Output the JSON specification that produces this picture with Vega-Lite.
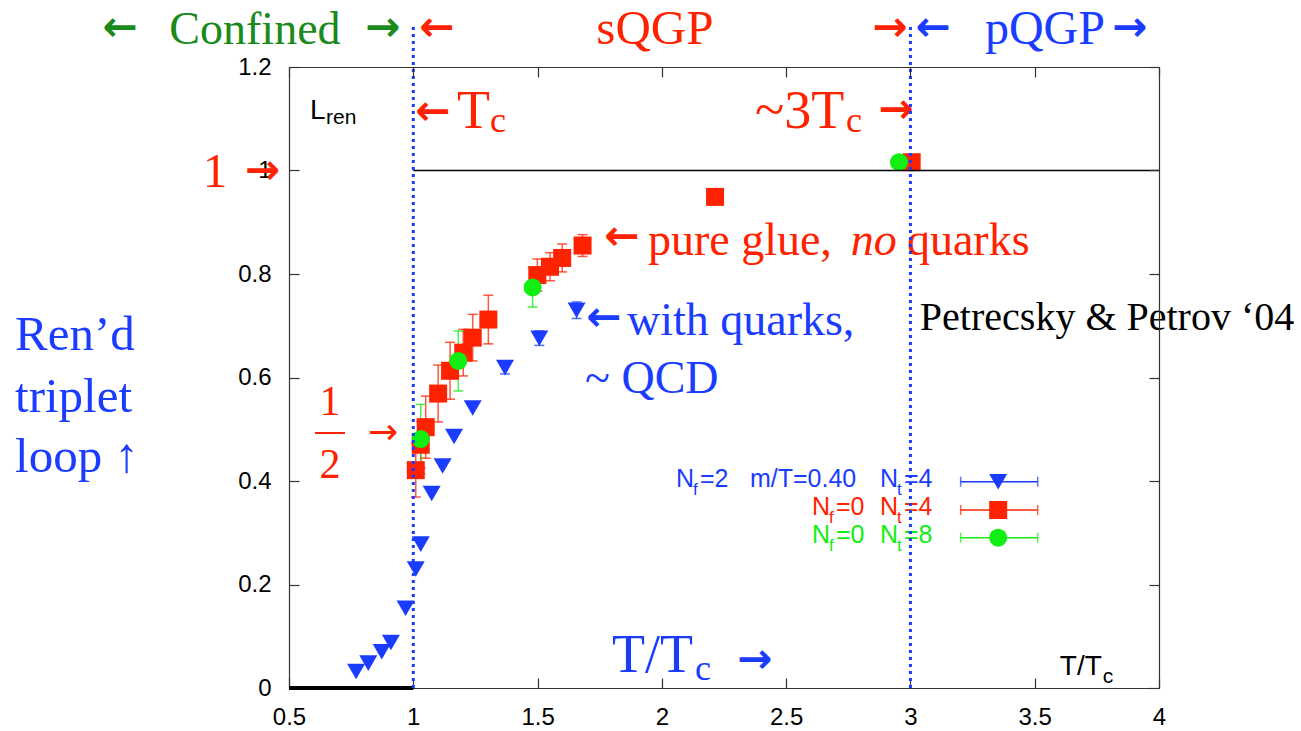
{
"$schema":"https://vega.github.io/schema/vega-lite/v6.json",
"width":870,"height":621,
"autosize":{"type":"none"},
"padding":{"left":289,"top":67,"right":142,"bottom":43},
"background":"white",
"config":{"view":{"stroke":null},"axis":{"grid":false}},
"datasets":{
"pts":[
{"s":"Nf=2","T":0.770,"y":0.032},{"s":"Nf=2","T":0.819,"y":0.048},{"s":"Nf=2","T":0.873,"y":0.070},{"s":"Nf=2","T":0.910,"y":0.088},
{"s":"Nf=2","T":0.969,"y":0.154},{"s":"Nf=2","T":1.010,"y":0.230},{"s":"Nf=2","T":1.030,"y":0.278},{"s":"Nf=2","T":1.074,"y":0.376},
{"s":"Nf=2","T":1.118,"y":0.429},{"s":"Nf=2","T":1.164,"y":0.486},{"s":"Nf=2","T":1.239,"y":0.541},{"s":"Nf=2","T":1.369,"y":0.619},
{"s":"Nf=2","T":1.507,"y":0.676},{"s":"Nf=2","T":1.657,"y":0.730},
{"s":"Nt=4","T":1.010,"y":0.421},{"s":"Nt=4","T":1.030,"y":0.470},{"s":"Nt=4","T":1.050,"y":0.504},{"s":"Nt=4","T":1.100,"y":0.569},
{"s":"Nt=4","T":1.148,"y":0.613},{"s":"Nt=4","T":1.201,"y":0.648},{"s":"Nt=4","T":1.239,"y":0.677},{"s":"Nt=4","T":1.302,"y":0.712},
{"s":"Nt=4","T":1.499,"y":0.798},{"s":"Nt=4","T":1.550,"y":0.814},{"s":"Nt=4","T":1.599,"y":0.831},{"s":"Nt=4","T":1.681,"y":0.855},
{"s":"Nt=4","T":2.214,"y":0.949},{"s":"Nt=4","T":3.005,"y":1.016},
{"s":"Nt=8","T":1.030,"y":0.481},{"s":"Nt=8","T":1.181,"y":0.632},{"s":"Nt=8","T":1.480,"y":0.774},{"s":"Nt=8","T":2.954,"y":1.016}
],
"err":[
{"s":"Nf=2","T":1.369,"y":0.607,"y2":0.631},{"s":"Nf=2","T":1.507,"y":0.662,"y2":0.690},{"s":"Nf=2","T":1.657,"y":0.714,"y2":0.746},
{"s":"Nt=4","T":1.010,"y":0.369,"y2":0.473},{"s":"Nt=4","T":1.030,"y":0.425,"y2":0.515},{"s":"Nt=4","T":1.050,"y":0.444,"y2":0.564},
{"s":"Nt=4","T":1.100,"y":0.514,"y2":0.624},{"s":"Nt=4","T":1.148,"y":0.558,"y2":0.668},{"s":"Nt=4","T":1.201,"y":0.603,"y2":0.693},
{"s":"Nt=4","T":1.239,"y":0.632,"y2":0.722},{"s":"Nt=4","T":1.302,"y":0.665,"y2":0.759},{"s":"Nt=4","T":1.499,"y":0.767,"y2":0.829},
{"s":"Nt=4","T":1.550,"y":0.787,"y2":0.841},{"s":"Nt=4","T":1.599,"y":0.804,"y2":0.858},{"s":"Nt=4","T":1.681,"y":0.834,"y2":0.876},
{"s":"Nt=8","T":1.030,"y":0.414,"y2":0.548},{"s":"Nt=8","T":1.181,"y":0.574,"y2":0.690},{"s":"Nt=8","T":1.480,"y":0.736,"y2":0.812}
],
"leg":[
{"s":"Nf=2","T":3.202,"T2":3.512,"Tm":3.353,"y":0.3987},
{"s":"Nt=4","T":3.202,"T2":3.512,"Tm":3.353,"y":0.344},
{"s":"Nt=8","T":3.202,"T2":3.512,"Tm":3.353,"y":0.2904}
],
"legtxt":[
{"s":"Nf=2","T":2.0567,"y":0.3884,"txt":"N"},{"s":"Nf=2","T":2.1533,"y":0.3884,"txt":"=2"},{"s":"Nf=2","T":2.3544,"y":0.3884,"txt":"m/T=0.40"},
{"s":"Nf=2","T":2.8773,"y":0.3884,"txt":"N"},{"s":"Nf=2","T":2.9738,"y":0.3884,"txt":"=4"},
{"s":"Nt=4","T":2.6038,"y":0.3343,"txt":"N"},{"s":"Nt=4","T":2.7003,"y":0.3343,"txt":"=0"},{"s":"Nt=4","T":2.8773,"y":0.3343,"txt":"N"},{"s":"Nt=4","T":2.9738,"y":0.3343,"txt":"=4"},
{"s":"Nt=8","T":2.6038,"y":0.2802,"txt":"N"},{"s":"Nt=8","T":2.7003,"y":0.2802,"txt":"=0"},{"s":"Nt=8","T":2.8773,"y":0.2802,"txt":"N"},{"s":"Nt=8","T":2.9738,"y":0.2802,"txt":"=8"}
],
"legsub":[
{"s":"Nf=2","T":2.1251,"y":0.3729,"txt":"f"},{"s":"Nf=2","T":2.9457,"y":0.3729,"txt":"t"},
{"s":"Nt=4","T":2.6722,"y":0.3188,"txt":"f"},{"s":"Nt=4","T":2.9457,"y":0.3188,"txt":"t"},
{"s":"Nt=8","T":2.6722,"y":0.2647,"txt":"f"},{"s":"Nt=8","T":2.9457,"y":0.2647,"txt":"t"}
]
},
"encoding":{
"x":{"field":"T","type":"quantitative","scale":{"domain":[0.5,4],"nice":false,"zero":false},"axis":null},
"y":{"field":"y","type":"quantitative","scale":{"domain":[0,1.2],"nice":false,"zero":false},"axis":null}
},
"layer":[
{"data":{"name":"err"},"mark":{"type":"rule","strokeWidth":1.5,"opacity":0.75},
 "encoding":{"y2":{"field":"y2"},"color":{"field":"s","type":"nominal","scale":{"domain":["Nf=2","Nt=4","Nt=8"],"range":["#1a3cff","#ff2200","#11ee11"]},"legend":null}}},
{"data":{"name":"err"},"mark":{"type":"tick","orient":"horizontal","size":10,"thickness":1.5,"opacity":0.75},
 "encoding":{"color":{"field":"s","type":"nominal","scale":{"domain":["Nf=2","Nt=4","Nt=8"],"range":["#1a3cff","#ff2200","#11ee11"]},"legend":null}}},
{"data":{"name":"err"},"mark":{"type":"tick","orient":"horizontal","size":10,"thickness":1.5,"opacity":0.75},
 "encoding":{"y":{"field":"y2","type":"quantitative","scale":{"domain":[0,1.2],"nice":false,"zero":false},"axis":null},
  "color":{"field":"s","type":"nominal","scale":{"domain":["Nf=2","Nt=4","Nt=8"],"range":["#1a3cff","#ff2200","#11ee11"]},"legend":null}}},
{"data":{"name":"pts"},"mark":{"type":"point","filled":true,"opacity":1,"strokeWidth":0},
 "encoding":{
  "x":{"field":"T","type":"quantitative","scale":{"domain":[0.5,4],"nice":false,"zero":false},
   "axis":{"orient":"bottom","values":[0.5,1,1.5,2,2.5,3,3.5,4],"format":"~g","title":null,"grid":false,"domain":true,"domainColor":"#333","domainWidth":1.2,"ticks":true,"tickSize":-10,"tickColor":"#333","tickWidth":1.2,"labelFont":"Liberation Sans","labelFontSize":24,"labelColor":"#000","labelPadding":27,"labelFlush":false,"labelOverlap":false,"zindex":0}},
  "y":{"field":"y","type":"quantitative","scale":{"domain":[0,1.2],"nice":false,"zero":false},
   "axis":{"orient":"left","values":[0,0.2,0.4,0.6,0.8,1,1.2],"format":"~g","title":null,"grid":false,"domain":true,"domainColor":"#333","domainWidth":1.2,"ticks":true,"tickSize":-10,"tickColor":"#333","tickWidth":1.2,"labelFont":"Liberation Sans","labelFontSize":24,"labelColor":"#000","labelPadding":28,"labelFlush":false,"labelOverlap":false,"zindex":0}},
  "color":{"field":"s","type":"nominal","scale":{"domain":["Nf=2","Nt=4","Nt=8"],"range":["#1a3cff","#ff2200","#11ee11"]},"legend":null},
  "shape":{"field":"s","type":"nominal","scale":{"domain":["Nf=2","Nt=4","Nt=8"],"range":["triangle-down","square","circle"]},"legend":null},
  "size":{"field":"s","type":"nominal","scale":{"domain":["Nf=2","Nt=4","Nt=8"],"range":[324,324,300]},"legend":null}}},
{"data":{"name":"leg"},"mark":{"type":"rule","strokeWidth":1.5},
 "encoding":{"x2":{"field":"T2"},"color":{"field":"s","type":"nominal","scale":{"domain":["Nf=2","Nt=4","Nt=8"],"range":["#1a3cff","#ff2200","#11ee11"]},"legend":null}}},
{"data":{"name":"leg"},"mark":{"type":"tick","orient":"vertical","size":10,"thickness":1.5},
 "encoding":{"color":{"field":"s","type":"nominal","scale":{"domain":["Nf=2","Nt=4","Nt=8"],"range":["#1a3cff","#ff2200","#11ee11"]},"legend":null}}},
{"data":{"name":"leg"},"mark":{"type":"tick","orient":"vertical","size":10,"thickness":1.5},
 "encoding":{"x":{"field":"T2","type":"quantitative","scale":{"domain":[0.5,4],"nice":false,"zero":false},"axis":null},
  "color":{"field":"s","type":"nominal","scale":{"domain":["Nf=2","Nt=4","Nt=8"],"range":["#1a3cff","#ff2200","#11ee11"]},"legend":null}}},
{"data":{"name":"leg"},"mark":{"type":"point","filled":true,"opacity":1,"strokeWidth":0},
 "encoding":{"x":{"field":"Tm","type":"quantitative","scale":{"domain":[0.5,4],"nice":false,"zero":false},"axis":null},
  "color":{"field":"s","type":"nominal","scale":{"domain":["Nf=2","Nt=4","Nt=8"],"range":["#1a3cff","#ff2200","#11ee11"]},"legend":null},
  "shape":{"field":"s","type":"nominal","scale":{"domain":["Nf=2","Nt=4","Nt=8"],"range":["triangle-down","square","circle"]},"legend":null},
  "size":{"field":"s","type":"nominal","scale":{"domain":["Nf=2","Nt=4","Nt=8"],"range":[324,324,300]},"legend":null}}},
{"data":{"name":"legtxt"},"mark":{"type":"text","font":"Liberation Sans","fontSize":25,"align":"left","baseline":"alphabetic"},
 "encoding":{"text":{"field":"txt"},"color":{"field":"s","type":"nominal","scale":{"domain":["Nf=2","Nt=4","Nt=8"],"range":["#1a3cff","#ff2200","#11ee11"]},"legend":null}}},
{"data":{"name":"legsub"},"mark":{"type":"text","font":"Liberation Sans","fontSize":17,"align":"left","baseline":"alphabetic"},
 "encoding":{"text":{"field":"txt"},"color":{"field":"s","type":"nominal","scale":{"domain":["Nf=2","Nt=4","Nt=8"],"range":["#1a3cff","#ff2200","#11ee11"]},"legend":null}}},
{"data":{"values":[{"T":0.363,"y":1.2444,"txt":"Confined"}]},"mark":{"type":"text","font":"Liberation Serif","fontSize":46,"align":"center","baseline":"alphabetic","color":"#1a8a1a"},"encoding":{"text":{"field":"txt"}}},
{"data":{"values":[{"T":-0.18,"y":1.275,"txt":"←"},{"T":0.878,"y":1.275,"txt":"→"}]},"mark":{"type":"text","font":"DejaVu Sans","fontWeight":"bold","fontSize":42,"align":"center","baseline":"middle","color":"#1a8a1a"},"encoding":{"text":{"field":"txt"}}},
{"data":{"values":[{"T":1.095,"y":1.275,"txt":"←"},{"T":2.918,"y":1.275,"txt":"→"},{"T":1.079,"y":1.113,"txt":"←"},{"T":2.942,"y":1.117,"txt":"→"},{"T":0.3934,"y":1.0,"txt":"→"},{"T":1.8395,"y":0.8715,"txt":"←"}]},"mark":{"type":"text","font":"DejaVu Sans","fontWeight":"bold","fontSize":42,"align":"center","baseline":"middle","color":"#ff2200"},"encoding":{"text":{"field":"txt"}}},
{"data":{"values":[{"T":3.091,"y":1.275,"txt":"←"},{"T":3.883,"y":1.275,"txt":"→"},{"T":1.767,"y":0.715,"txt":"←"},{"T":2.374,"y":0.054,"txt":"→"}]},"mark":{"type":"text","font":"DejaVu Sans","fontWeight":"bold","fontSize":42,"align":"center","baseline":"middle","color":"#1a3cff"},"encoding":{"text":{"field":"txt"}}},
{"data":{"values":[{"T":1.972,"y":1.2444,"txt":"sQGP"},{"T":0.2023,"y":0.968,"txt":"1"}]},"mark":{"type":"text","font":"Liberation Serif","fontSize":49,"align":"center","baseline":"alphabetic","color":"#ff2200"},"encoding":{"text":{"field":"txt"}}},
{"data":{"values":[{"T":1.944,"y":0.8367,"txt":"pure glue,"},{"T":2.986,"y":0.8367,"txt":"quarks"}]},"mark":{"type":"text","font":"Liberation Serif","fontSize":46,"align":"left","baseline":"alphabetic","color":"#ff2200"},"encoding":{"text":{"field":"txt"}}},
{"data":{"values":[{"T":2.760,"y":0.8367,"txt":"no"}]},"mark":{"type":"text","font":"Liberation Serif","fontStyle":"italic","fontSize":46,"align":"left","baseline":"alphabetic","color":"#ff2200"},"encoding":{"text":{"field":"txt"}}},
{"data":{"values":[{"T":1.176,"y":1.082,"txt":"T"},{"T":2.3745,"y":1.082,"txt":"~3T"}]},"mark":{"type":"text","font":"Liberation Serif","fontSize":54,"align":"left","baseline":"alphabetic","color":"#ff2200"},"encoding":{"text":{"field":"txt"}}},
{"data":{"values":[{"T":1.3085,"y":1.0744,"txt":"c"},{"T":2.7406,"y":1.0744,"txt":"c"}]},"mark":{"type":"text","font":"Liberation Serif","fontSize":36,"align":"left","baseline":"alphabetic","color":"#ff2200"},"encoding":{"text":{"field":"txt"}}},
{"data":{"values":[{"T":0.665,"y":0.5275,"txt":"1"},{"T":0.665,"y":0.4058,"txt":"2"}]},"mark":{"type":"text","font":"Liberation Serif","fontSize":42,"align":"center","baseline":"alphabetic","color":"#ff2200"},"encoding":{"text":{"field":"txt"}}},
{"data":{"values":[{"T":0.878,"y":0.4928,"txt":"→"}]},"mark":{"type":"text","font":"DejaVu Sans","fontSize":36,"align":"center","baseline":"middle","color":"#ff2200"},"encoding":{"text":{"field":"txt"}}},
{"data":{"values":[{"T":0.6046,"T2":0.7253,"y":0.4928}]},"mark":{"type":"rule","strokeWidth":2,"color":"#ff2200"},"encoding":{"x2":{"field":"T2"}}},
{"data":{"values":[{"T":3.541,"y":1.2444,"txt":"pQGP"}]},"mark":{"type":"text","font":"Liberation Serif","fontSize":48,"align":"center","baseline":"alphabetic","color":"#1a3cff"},"encoding":{"text":{"field":"txt"}}},
{"data":{"values":[{"T":1.8596,"y":0.682,"txt":"with quarks,"},{"T":1.691,"y":0.570,"txt":"~ QCD"}]},"mark":{"type":"text","font":"Liberation Serif","fontSize":46,"align":"left","baseline":"alphabetic","color":"#1a3cff"},"encoding":{"text":{"field":"txt"}}},
{"data":{"values":[{"T":-0.602,"y":0.653,"txt":"Ren’d"},{"T":-0.602,"y":0.533,"txt":"triplet"},{"T":-0.602,"y":0.417,"txt":"loop ↑"}]},"mark":{"type":"text","font":"Liberation Serif","fontSize":49,"align":"left","baseline":"alphabetic","color":"#1a3cff"},"encoding":{"text":{"field":"txt"}}},
{"data":{"values":[{"T":1.799,"y":0.0309,"txt":"T/T"}]},"mark":{"type":"text","font":"Liberation Serif","fontSize":54,"align":"left","baseline":"alphabetic","color":"#1a3cff"},"encoding":{"text":{"field":"txt"}}},
{"data":{"values":[{"T":2.133,"y":0.0155,"txt":"c"}]},"mark":{"type":"text","font":"Liberation Serif","fontSize":36,"align":"left","baseline":"alphabetic","color":"#1a3cff"},"encoding":{"text":{"field":"txt"}}},
{"data":{"values":[{"T":3.038,"y":0.6918,"txt":"Petrecsky & Petrov ‘04"}]},"mark":{"type":"text","font":"Liberation Serif","fontSize":40,"align":"left","baseline":"alphabetic","color":"#000"},"encoding":{"text":{"field":"txt"}}},
{"data":{"values":[{"T":0.5845,"y":1.0995,"txt":"L"},{"T":3.601,"y":0.0251,"txt":"T/T"}]},"mark":{"type":"text","font":"Liberation Sans","fontSize":28,"align":"left","baseline":"alphabetic","color":"#000"},"encoding":{"text":{"field":"txt"}}},
{"data":{"values":[{"T":0.649,"y":1.0899,"txt":"ren"},{"T":3.774,"y":0.0097,"txt":"c"}]},"mark":{"type":"text","font":"Liberation Sans","fontSize":21,"align":"left","baseline":"alphabetic","color":"#000"},"encoding":{"text":{"field":"txt"}}},
{"data":{"values":[{"T":1,"T2":4,"y":1}]},"mark":{"type":"rule","strokeWidth":1.5,"color":"#000"},
 "encoding":{"x2":{"field":"T2"},
  "x":{"field":"T","type":"quantitative","scale":{"domain":[0.5,4],"nice":false,"zero":false},
   "axis":{"orient":"top","values":[0.5,1,1.5,2,2.5,3,3.5,4],"labels":false,"title":null,"grid":false,"domain":true,"domainColor":"#333","domainWidth":1.2,"ticks":true,"tickSize":-10,"tickColor":"#333","tickWidth":1.2,"zindex":1}},
  "y":{"field":"y","type":"quantitative","scale":{"domain":[0,1.2],"nice":false,"zero":false},
   "axis":{"orient":"right","values":[0,0.2,0.4,0.6,0.8,1,1.2],"labels":false,"title":null,"grid":false,"domain":true,"domainColor":"#333","domainWidth":1.2,"ticks":true,"tickSize":-10,"tickColor":"#333","tickWidth":1.2,"zindex":1}}}},
{"data":{"values":[{"T":0.5,"T2":1,"y":0}]},"mark":{"type":"rule","strokeWidth":4,"color":"#000"},"encoding":{"x2":{"field":"T2"}}},
{"data":{"values":[{"T":1,"y":0,"y2":1.281},{"T":3,"y":0,"y2":1.281}]},"mark":{"type":"rule","strokeWidth":3,"strokeDash":[3,4],"color":"#1a3cff"},"encoding":{"y2":{"field":"y2"}}}
],
"resolve":{"axis":{"x":"independent","y":"independent"}}
}
